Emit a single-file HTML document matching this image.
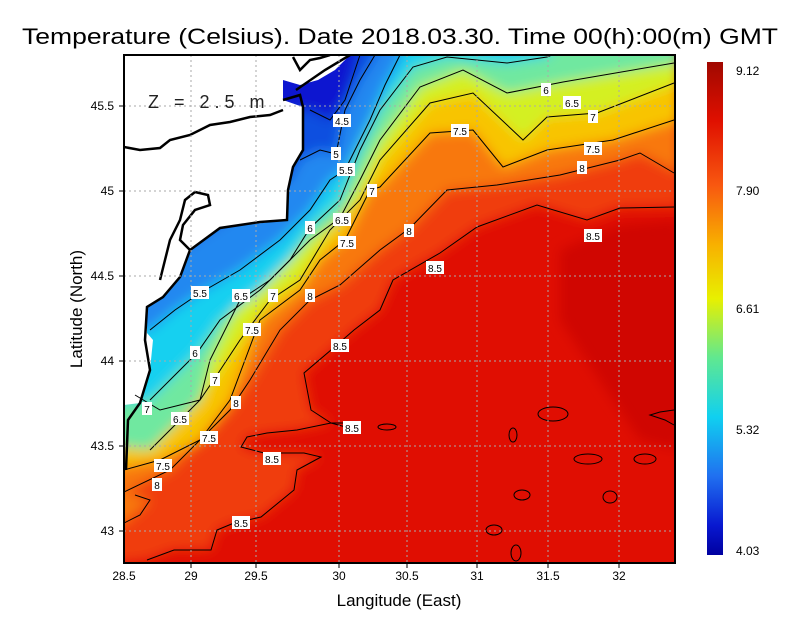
<!DOCTYPE html>
<html><head><style>
html,body{margin:0;padding:0;background:#fff;}
svg text{font-family:"Liberation Sans",sans-serif;}
</style></head><body>
<svg width="800" height="618" viewBox="0 0 800 618" xmlns="http://www.w3.org/2000/svg">
<defs>
<clipPath id="pc"><rect x="124" y="55" width="551" height="508"/></clipPath>
<filter id="bl" x="-5%" y="-5%" width="110%" height="110%"><feGaussianBlur stdDeviation="6"/></filter>
<linearGradient id="cb" x1="0" y1="0" x2="0" y2="1">
<stop offset="0" stop-color="#a00800"/><stop offset="0.12" stop-color="#e01000"/>
<stop offset="0.25" stop-color="#f85810"/><stop offset="0.37" stop-color="#f8b000"/>
<stop offset="0.48" stop-color="#e8f000"/><stop offset="0.6" stop-color="#60e890"/>
<stop offset="0.72" stop-color="#10d0f0"/><stop offset="0.84" stop-color="#2070f0"/>
<stop offset="0.94" stop-color="#0818d0"/><stop offset="1" stop-color="#0000a0"/>
</linearGradient>
</defs>
<text x="22" y="44" font-size="22" textLength="756" lengthAdjust="spacingAndGlyphs">Temperature (Celsius). Date 2018.03.30. Time 00(h):00(m)  GMT</text>
<g clip-path="url(#pc)">
<rect x="100" y="40" width="600" height="540" fill="#e00e02"/>
<g filter="url(#bl)">
<path d="M560,250 L620,225 L680,220 L680,450 L640,440 L600,380 L560,320 Z" fill="#c40a00" opacity="0.6"/>
<path d="M100,565 L147,560 L174,550 L211,550 L217,530 L234,523 L261,517 L294,490 L297,470 L321,457 L304,453 L264,453 L241,447 L247,437 L267,433 L297,430 L331,423 L311,410 L304,373 L331,350 L354,330 L380,310 L393,280 L440,253 L477,227 L537,205 L587,220 L620,208 L680,207 L680,40 L100,40 Z" fill="#f03c0a"/>
<path d="M100,530 L124,523 L150,500 L124,492 L170,470 L230,410 L250,380 L280,330 L310,300 L340,285 L380,250 L410,228 L447,190 L497,185 L560,175 L620,160 L640,153 L680,173 L680,40 L100,40 Z" fill="#f87810"/>
<path d="M100,470 L160,460 L200,440 L230,400 L245,360 L260,320 L300,290 L320,260 L345,240 L370,190 L380,187 L430,133 L473,130 L503,167 L547,150 L613,140 L680,120 L680,40 L100,40 Z" fill="#f8c400"/>
<path d="M100,400 L135,395 L160,410 L200,400 L215,378 L240,340 L270,300 L300,280 L330,230 L360,200 L380,160 L430,103 L473,93 L523,140 L547,117 L597,113 L680,83 L680,40 L100,40 Z" fill="#d4f020"/>
<path d="M100,445 L150,450 L180,420 L200,400 L210,360 L240,300 L270,280 L310,240 L340,218 L360,180 L380,140 L420,87 L463,70 L507,93 L563,82 L680,63 L680,40 L100,40 Z" fill="#70e8a0"/>
<path d="M100,405 L150,400 L170,380 L197,353 L220,320 L260,290 L290,260 L310,228 L340,200 L360,150 L380,110 L413,67 L447,57 L507,63 L547,57 L560,40 L100,40 Z" fill="#18d0f0"/>
<path d="M100,335 L150,330 L175,310 L200,293 L240,270 L280,240 L310,210 L330,180 L345,170 L370,120 L385,85 L400,60 L405,40 L100,40 Z" fill="#2088f0"/>
<path d="M100,300 L290,180 L300,160 L320,150 L336,154 L345,110 L360,80 L375,57 L380,40 L100,40 Z" fill="#1050e0"/>
<path d="M100,120 L310,110 L330,120 L345,100 L355,70 L360,40 L100,40 Z" fill="#0818d0"/>
</g>
<!-- land -->
<path d="M100,40 L360,40 L350,55 L335,70 L318,80 L300,85 L283,80 L283,100 L303,107 L303,150 L293,167 L288,190 L287,220 L220,228 L190,250 L180,277 L163,297 L147,307 L147,333 L153,340 L150,370 L140,403 L124,405 L100,405 Z" fill="#fff"/>
<g fill="none" stroke="#000" stroke-width="2.5">
<path d="M296,90 L325,70 L350,55"/>
<path d="M283,100 L300,95 L303,107 L303,150 L293,167 L288,190 L287,220 L260,222 L220,228 L190,250 L180,277 L163,297 L147,307 L145,340 L150,370 L140,403 L128,420 L126,470"/>
<path d="M124,147 L140,150 L160,148 L170,140 L190,135 L210,125 L230,122 L250,117 L270,115 L283,110"/>
<path d="M190,250 L180,240 L183,225 L195,210 L210,205 L208,195 L195,192 L185,200 L180,220 L170,240 L165,260 L160,280"/>
<path d="M293,57 L300,70 L310,60 L320,58 L330,55"/>
</g>
<g fill="none" stroke="#000" stroke-width="1">
<path d="M124,492 L170,470 L230,410 L250,380 L280,330 L310,300 L340,285 L380,250 L410,228 L447,190 L497,185 L560,175 L620,160 L640,153 L674,173"/>
<path d="M147,560 L174,550 L211,550 L217,530 L234,523 L261,517 L294,490 L297,470 L321,457 L304,453 L264,453 L241,447 L247,437 L267,433 L297,430 L331,423 L357,430 L360,423 L331,423 L311,410 L304,373 L331,350 L354,330 L380,310 L393,280 L440,253 L477,227 L537,205 L587,220 L620,208 L674,207"/>
<path d="M124,523 L140,515 L150,500 L135,495"/>
<path d="M124,470 L160,460 L200,440 L230,400 L245,360 L260,320 L300,290 L320,260 L345,240 L370,190 L380,187 L430,133 L473,130 L503,167 L547,150 L613,140 L674,120"/>
<path d="M135,395 L160,410 L200,400 L215,378 L240,340 L270,300 L300,280 L330,230 L360,200 L380,160 L430,103 L473,93 L523,140 L547,117 L597,113 L674,83"/>
<path d="M150,450 L180,420 L200,400 L210,360 L240,300 L270,280 L310,240 L340,218 L360,180 L380,140 L420,87 L463,70 L507,93 L563,82 L674,63"/>
<path d="M150,400 L170,380 L197,353 L220,320 L260,290 L290,260 L310,228 L340,200 L360,150 L380,110 L413,67 L447,57 L507,63 L547,57 L552,55"/>
<path d="M150,330 L175,310 L200,293 L240,270 L280,240 L310,210 L330,180 L345,170 L370,120 L385,85 L400,55"/>
<path d="M300,160 L320,150 L336,154 L345,110 L360,80 L375,55"/>
<path d="M310,110 L330,120 L345,100 L355,70 L360,55"/>
<ellipse cx="553" cy="414" rx="15" ry="7"/><ellipse cx="588" cy="459" rx="14" ry="5"/>
<ellipse cx="645" cy="459" rx="11" ry="5"/><ellipse cx="522" cy="495" rx="8" ry="5"/>
<ellipse cx="610" cy="497" rx="7" ry="6"/><ellipse cx="494" cy="530" rx="8" ry="5"/>
<ellipse cx="387" cy="427" rx="9" ry="3"/><ellipse cx="516" cy="553" rx="5" ry="8"/>
<ellipse cx="513" cy="435" rx="4" ry="7"/><path d="M674,410 L660,412 L650,415 L665,420 L674,425"/>
</g>
</g>
<!-- grid -->
<g stroke="#aaa" stroke-width="1" stroke-dasharray="2,3">
<path d="M191,55V563M256,55V563M339,55V563M407,55V563M477,55V563M548,55V563M619,55V563"/>
<path d="M124,106H675M124,191H675M124,276H675M124,361H675M124,446H675M124,531H675"/>
</g>
<rect x="124" y="55" width="551" height="508" fill="none" stroke="#000" stroke-width="2"/>
<g stroke="#000"><path d="M191,563v5M256,563v5M339,563v5M407,563v5M477,563v5M548,563v5M619,563v5M124,106h-5M124,191h-5M124,276h-5M124,361h-5M124,446h-5M124,531h-5"/></g>
<text x="148" y="108" font-size="18" fill="#222" letter-spacing="5">Z = 2.5 m</text>
<g font-size="10" text-anchor="middle">
<g fill="#fff">
<rect x="333" y="114" width="18" height="13"/><rect x="331" y="147" width="10" height="13"/><rect x="337" y="163" width="18" height="13"/>
<rect x="367" y="184" width="10" height="13"/><rect x="333" y="213" width="18" height="13"/><rect x="338" y="236" width="18" height="13"/>
<rect x="305" y="221" width="10" height="13"/><rect x="191" y="286" width="18" height="13"/><rect x="232" y="289" width="18" height="13"/>
<rect x="268" y="289" width="10" height="13"/><rect x="305" y="289" width="10" height="13"/><rect x="243" y="323" width="18" height="13"/>
<rect x="190" y="346" width="10" height="13"/><rect x="210" y="373" width="10" height="13"/><rect x="231" y="396" width="10" height="13"/>
<rect x="142" y="402" width="10" height="13"/><rect x="171" y="412" width="18" height="13"/><rect x="200" y="431" width="18" height="13"/>
<rect x="154" y="459" width="18" height="13"/><rect x="152" y="478" width="10" height="13"/><rect x="343" y="421" width="18" height="13"/>
<rect x="263" y="452" width="18" height="13"/><rect x="232" y="516" width="18" height="13"/><rect x="331" y="339" width="18" height="13"/>
<rect x="426" y="261" width="18" height="13"/><rect x="404" y="224" width="10" height="13"/><rect x="584" y="229" width="18" height="13"/>
<rect x="451" y="124" width="18" height="13"/><rect x="541" y="83" width="10" height="13"/><rect x="563" y="96" width="18" height="13"/>
<rect x="588" y="110" width="10" height="13"/><rect x="584" y="142" width="18" height="13"/><rect x="577" y="161" width="10" height="13"/>
</g>
<text x="342" y="125">4.5</text><text x="336" y="158">5</text><text x="346" y="174">5.5</text>
<text x="372" y="195">7</text><text x="342" y="224">6.5</text><text x="347" y="247">7.5</text>
<text x="310" y="232">6</text><text x="200" y="297">5.5</text><text x="241" y="300">6.5</text>
<text x="273" y="300">7</text><text x="310" y="300">8</text><text x="252" y="334">7.5</text>
<text x="195" y="357">6</text><text x="215" y="384">7</text><text x="236" y="407">8</text>
<text x="147" y="413">7</text><text x="180" y="423">6.5</text><text x="209" y="442">7.5</text>
<text x="163" y="470">7.5</text><text x="157" y="489">8</text><text x="352" y="432">8.5</text>
<text x="272" y="463">8.5</text><text x="241" y="527">8.5</text><text x="340" y="350">8.5</text>
<text x="435" y="272">8.5</text><text x="409" y="235">8</text><text x="593" y="240">8.5</text>
<text x="460" y="135">7.5</text><text x="546" y="94">6</text><text x="572" y="107">6.5</text>
<text x="593" y="121">7</text><text x="593" y="153">7.5</text><text x="582" y="172">8</text>
</g>
<g font-size="12" text-anchor="middle">
<text x="124" y="580">28.5</text><text x="191" y="580">29</text><text x="256" y="580">29.5</text><text x="339" y="580">30</text>
<text x="407" y="580">30.5</text><text x="477" y="580">31</text><text x="548" y="580">31.5</text><text x="619" y="580">32</text>
</g>
<g font-size="12" text-anchor="end">
<text x="114" y="110">45.5</text><text x="114" y="195">45</text><text x="114" y="280">44.5</text>
<text x="114" y="365">44</text><text x="114" y="450">43.5</text><text x="114" y="535">43</text>
</g>
<text x="399" y="606" font-size="17" text-anchor="middle">Langitude (East)</text>
<text x="82" y="309" font-size="17" text-anchor="middle" transform="rotate(-90 82 309)">Latitude (North)</text>
<rect x="707" y="62" width="16" height="493" fill="url(#cb)"/>
<g font-size="12">
<text x="736" y="75">9.12</text><text x="736" y="195">7.90</text><text x="736" y="313">6.61</text>
<text x="736" y="434">5.32</text><text x="736" y="555">4.03</text>
</g>
</svg>
</body></html>
